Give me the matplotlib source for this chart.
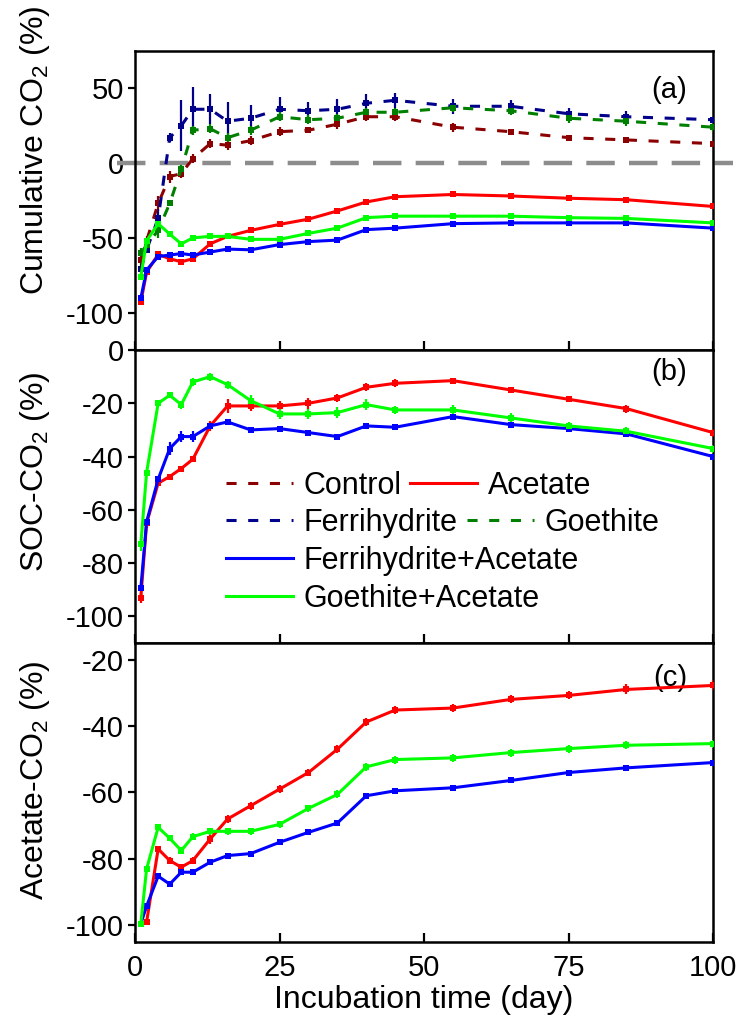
import matplotlib
matplotlib.use("Agg")
import matplotlib.pyplot as plt

plt.rcParams["font.family"] = ["Liberation Sans", "DejaVu Sans"]
plt.rcParams["axes.unicode_minus"] = False
plt.rcParams["mathtext.fontset"] = "custom"
plt.rcParams["mathtext.rm"] = "Liberation Sans"

# sampling days
days = [1, 2, 4, 6, 8, 10, 13, 16, 20, 25, 30, 35, 40, 45, 55, 65, 75, 85, 100]

# (a) cumulative CO2 (%)
a_control = [-65, -52, -27, -9, -7, 3, 13, 12, 15, 21, 22, 26, 31, 31, 24, 21, 17, 15.5, 13]
a_control_err = [4, 3, 5, 4, 3, 3, 3, 3, 3, 3, 2, 3, 3, 3, 3, 2, 2, 2, 1]
a_ferri = [-71, -58, -37, 17, 25, 36, 36, 28, 30, 36, 35, 36, 40, 42, 38, 38, 33, 31, 29]
a_ferri_err = [2, 2, 6, 3, 17, 15, 10, 13, 9, 8, 6, 7, 6, 5, 5, 4, 4, 4, 2]
a_goethite = [-60, -55, -45, -27, -4, 22, 23, 17, 22, 31, 29, 30, 34, 34, 37, 35, 30, 28, 24]
a_goethite_err = [3, 3, 5, 2, 3, 3, 3, 3, 3, 3, 3, 3, 3, 3, 3, 3, 3, 3, 3]
a_acetate = [-93, -73, -61, -64, -66, -64, -54, -49, -45, -41, -37.5, -32, -26, -22.5,
             -21, -22, -23.5, -24.5, -29]
a_acetate_err = [2, 2, 1, 1, 1, 1, 2, 2, 1.5, 1.5, 1.5, 1.5, 1.5, 1.5, 1.5, 1.5, 1.5, 1.5, 1.5]
a_ferri_ac = [-90.5, -71.5, -62.5, -61.5, -60.5, -61.5, -59.5, -57.5, -58, -54.5, -52.5,
              -51.5, -44.5, -43.5, -40.5, -40, -40, -40, -43.5]
a_ferri_ac_err = [2, 2, 1, 1, 1, 1, 1, 1, 1, 1, 1, 1, 1, 1, 1, 1, 1, 1, 1]
a_goe_ac = [-76, -52, -40.5, -47.5, -54, -50, -49, -49, -51, -51, -47, -43.5, -36.5, -35.5,
            -35.5, -35.5, -36.5, -37, -40]
a_goe_ac_err = [2, 2, 2, 1, 1, 1, 1, 1, 1, 1, 1, 1, 1.5, 1.5, 1.5, 1.5, 1.5, 1.5, 1.5]

# (b) SOC-CO2 (%)
b_acetate = [-93, -65, -50, -47.5, -44.5, -41, -28.5, -21, -21, -21, -20, -18, -14, -12.5,
             -11.5, -15, -18.5, -22, -31]
b_acetate_err = [2, 2, 1, 1, 1, 1, 2, 2.5, 2, 2, 2, 1.5, 1.5, 1.5, 1, 1, 1, 1.5, 1.5]
b_ferri_ac = [-89.5, -64.5, -48.5, -37, -32.5, -32.5, -28.5, -27, -30, -29.5, -31, -32.5,
              -28.5, -29, -25, -28, -29.5, -31.5, -40]
b_ferri_ac_err = [1, 1, 1, 2.5, 2, 2, 1, 1, 1, 1, 1, 1, 1, 1, 1, 1, 1, 1, 1]
b_goe_ac = [-73, -46, -20, -17, -20.5, -12, -10, -13, -19, -24, -24, -23.5, -20.5, -22.5,
            -22.5, -25.5, -28.5, -30.5, -37]
b_goe_ac_err = [2.5, 1, 1, 1, 1.5, 1.5, 1.5, 1.5, 2, 2, 2, 2, 2, 1.5, 2, 2, 1.5, 1.5, 1.5]

# (c) Acetate-CO2 (%)
c_acetate = [-99.5, -99, -77, -80.5, -82.5, -80.5, -74, -68, -64, -59, -54, -47, -38.8,
             -35.2, -34.6, -32, -30.8, -29, -27.8]
c_acetate_err = [0.5, 0.5, 1, 1, 1, 1, 1.5, 1.2, 1.2, 1.2, 1.2, 1.2, 1.2, 1.2, 1.2, 1.2, 1.2, 1.5, 1.5]
c_ferri_ac = [-99.5, -94.2, -85.2, -87.6, -84, -84, -81, -79, -78.4, -75, -72, -69.2, -61,
              -59.5, -58.6, -56.4, -54, -52.6, -51]
c_ferri_ac_err = [0.5, 0.8, 0.8, 0.8, 0.8, 0.8, 0.5, 0.5, 0.5, 0.5, 0.5, 0.5, 0.5, 0.5, 0.5, 0.5, 0.5, 0.5, 0.5]
c_goe_ac = [-99.5, -83, -70.5, -73.8, -77.5, -73.3, -71.7, -71.7, -71.7, -69.6, -64.8,
            -60.6, -52.3, -50.1, -49.6, -48, -46.8, -45.8, -45.3]
c_goe_ac_err = [0.5, 1, 0.8, 0.8, 1, 1, 1, 1, 1, 1, 1, 1.2, 1.2, 1.2, 1.2, 1.2, 1.2, 1.2, 1.2]

names = ["Control", "Acetate", "Ferrihydrite", "Goethite",
         "Ferrihydrite+Acetate", "Goethite+Acetate"]
colors = {"Control": "#8b0000", "Acetate": "#ff0000", "Ferrihydrite": "#00008b",
          "Goethite": "#008000", "Ferrihydrite+Acetate": "#0000ff",
          "Goethite+Acetate": "#00ff00"}
dash = (0, (3.3, 3.8))
styles = {"Control": dash, "Ferrihydrite": dash, "Goethite": dash,
          "Acetate": "-", "Ferrihydrite+Acetate": "-", "Goethite+Acetate": "-"}

panel_a = {"Control": (a_control, a_control_err),
           "Ferrihydrite": (a_ferri, a_ferri_err),
           "Goethite": (a_goethite, a_goethite_err),
           "Acetate": (a_acetate, a_acetate_err),
           "Ferrihydrite+Acetate": (a_ferri_ac, a_ferri_ac_err),
           "Goethite+Acetate": (a_goe_ac, a_goe_ac_err)}
panel_b = {"Acetate": (b_acetate, b_acetate_err),
           "Ferrihydrite+Acetate": (b_ferri_ac, b_ferri_ac_err),
           "Goethite+Acetate": (b_goe_ac, b_goe_ac_err)}
panel_c = {"Acetate": (c_acetate, c_acetate_err),
           "Ferrihydrite+Acetate": (c_ferri_ac, c_ferri_ac_err),
           "Goethite+Acetate": (c_goe_ac, c_goe_ac_err)}

LW = 2.2
FS = 21
LFS = 23

fig = plt.figure(figsize=(7.44, 10.21), dpi=100)
left, width = 0.1815, 0.777
ax_a = fig.add_axes([left, 0.6572, width, 0.2929])
ax_b = fig.add_axes([left, 0.3702, width, 0.2870])
ax_c = fig.add_axes([left, 0.0774, width, 0.2929])


def draw(ax, series):
    for name, (vals, err) in series.items():
        ax.errorbar(days, vals, yerr=err, color=colors[name], ls=styles[name], lw=LW,
                    marker="s", ms=4.5, mew=0, capsize=3.5, capthick=1.6,
                    elinewidth=1.6, zorder=3)


draw(ax_a, panel_a)
draw(ax_b, panel_b)
draw(ax_c, panel_c)

ax_a.axhline(0, xmin=-0.031, xmax=1.035, color="#8c8c8c", lw=3.2,
             ls=(0, (6.4, 3.2)), clip_on=False, zorder=2)

ax_a.set_ylim(-125, 75)
ax_a.set_yticks([50, 0, -50, -100])
ax_b.set_ylim(-110, 0)
ax_b.set_yticks([0, -20, -40, -60, -80, -100])
ax_c.set_ylim(-105, -15)
ax_c.set_yticks([-20, -40, -60, -80, -100])

for ax in (ax_a, ax_b, ax_c):
    ax.set_xlim(0, 100)
    ax.set_xticks([0, 25, 50, 75, 100])
    for sp in ax.spines.values():
        sp.set_linewidth(1.8)
    ax.tick_params(axis="x", direction="in", length=6.5, width=1.6, labelsize=FS, pad=9)
    ax.tick_params(axis="y", direction="out", length=5, width=1.6, labelsize=FS, pad=3)

ax_a.tick_params(axis="x", labelbottom=False)
ax_b.tick_params(axis="x", labelbottom=False)

ax_a.set_ylabel("Cumulative CO$_2$ (%)", fontsize=LFS)
ax_b.set_ylabel("SOC-CO$_2$ (%)", fontsize=LFS)
ax_c.set_ylabel("Acetate-CO$_2$ (%)", fontsize=LFS)
ax_a.yaxis.set_label_coords(-0.143, 0.669)
ax_b.yaxis.set_label_coords(-0.143, 0.584)
ax_c.yaxis.set_label_coords(-0.143, 0.542)
ax_c.set_xlabel("Incubation time (day)", fontsize=LFS, labelpad=2)

ax_a.text(0.955, 0.87, "(a)", transform=ax_a.transAxes, ha="right", va="center", fontsize=FS)
ax_b.text(0.955, 0.925, "(b)", transform=ax_b.transAxes, ha="right", va="center", fontsize=FS)
ax_c.text(0.955, 0.883, "(c)", transform=ax_c.transAxes, ha="right", va="center", fontsize=FS)

# hand-placed legend in panel (b)
legend_pos = {"Control": (0.157, 0.547), "Acetate": (0.476, 0.547),
              "Ferrihydrite": (0.157, 0.420), "Goethite": (0.574, 0.420),
              "Ferrihydrite+Acetate": (0.157, 0.291), "Goethite+Acetate": (0.157, 0.161)}
for name in names:
    x0, y0 = legend_pos[name]
    ax_b.plot([x0, x0 + 0.116], [y0, y0], transform=ax_b.transAxes, color=colors[name],
              ls=styles[name], lw=LW)
    ax_b.text(x0 + 0.134, y0 - 0.037, name, transform=ax_b.transAxes, ha="left",
              va="baseline", fontsize=22)

fig.savefig("out.png", dpi=100)
